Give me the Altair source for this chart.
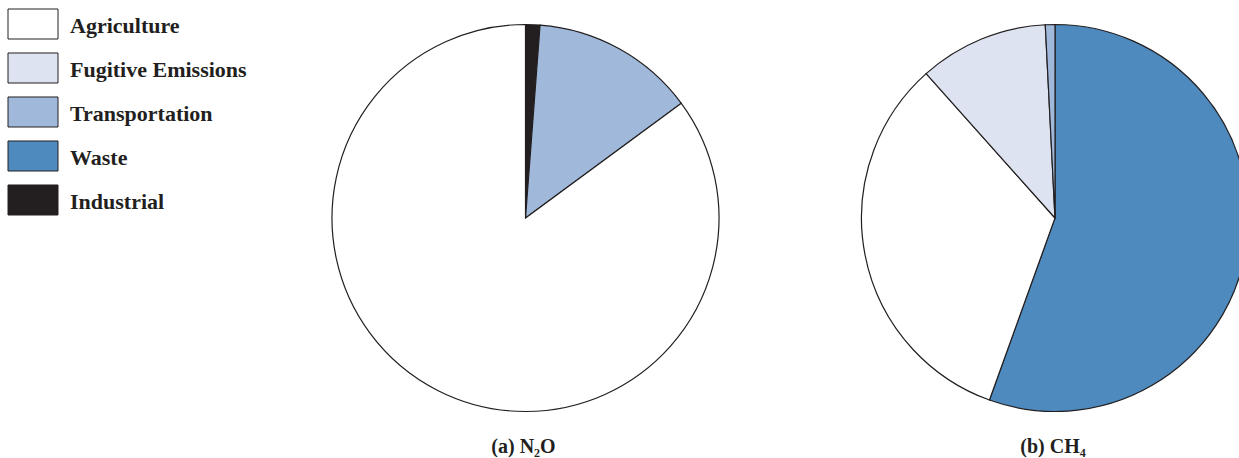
import altair as alt
import pandas as pd

categories = ["Agriculture", "Fugitive Emissions", "Transportation", "Waste", "Industrial"]
colors = ["#ffffff", "#dde3f0", "#a0b9da", "#4e8abe", "#231f20"]

# N2O shares (%), in drawing order clockwise from 12 o'clock
n2o_cats = ["Industrial", "Transportation", "Agriculture"]
n2o_vals = [1.2, 13.7, 85.1]

# CH4 shares (%), in drawing order clockwise from 12 o'clock
ch4_cats = ["Waste", "Agriculture", "Fugitive Emissions", "Transportation"]
ch4_vals = [55.5, 32.9, 10.8, 0.8]

titles = ["(a) N\u2082O", "(b) CH\u2084"]

FONT = "Liberation Serif"
STROKE = "#231f20"
W, H = 1239, 458

color_scale = alt.Scale(domain=categories, range=colors)

# Legend
leg = pd.DataFrame({"cat": categories})
ly = alt.Y("cat:N", sort=categories, axis=None,
           scale=alt.Scale(range=[9, 215], paddingInner=0.318, paddingOuter=0))
leg_rect = alt.Chart(leg).mark_rect(stroke=STROKE, strokeWidth=1).encode(
    x=alt.value(8), x2=alt.value(58), y=ly,
    color=alt.Color("cat:N", scale=color_scale, legend=None),
)
leg_text = alt.Chart(leg).mark_text(
    align="left", baseline="alphabetic", font=FONT, fontSize=22, fontWeight="bold",
    color=STROKE, dy=9,
).encode(x=alt.value(70), y=ly, text="cat:N")


def pie(cats, vals, title, cx):
    df = pd.DataFrame({"cat": cats, "value": vals, "order": list(range(len(cats)))})
    arc = alt.Chart(df).mark_arc(stroke=STROKE, strokeWidth=1.2).encode(
        theta=alt.Theta("value:Q", stack=True),
        order=alt.Order("order:Q"),
        color=alt.Color("cat:N", scale=color_scale, legend=None),
        x=alt.value(cx), y=alt.value(218), radius=alt.value(193.5),
    )
    tdf = pd.DataFrame({"t": [title]})
    txt = alt.Chart(tdf).mark_text(
        font=FONT, fontSize=20, fontWeight="bold", color=STROKE,
        align="center", baseline="alphabetic",
    ).encode(x=alt.value(cx - 2), y=alt.value(453), text="t:N")
    return arc, txt


arc_a, txt_a = pie(n2o_cats, n2o_vals, titles[0], 525.5)
arc_b, txt_b = pie(ch4_cats, ch4_vals, titles[1], 1055)

chart = alt.layer(leg_rect, leg_text, arc_a, txt_a, arc_b, txt_b).resolve_scale(
    theta="independent"
).properties(
    width=W, height=H, padding=0, background="white",
    autosize=alt.AutoSizeParams(type="none"),
).configure_view(strokeWidth=0)

chart.save("out.html", embed_options={"renderer": "svg", "actions": False})
